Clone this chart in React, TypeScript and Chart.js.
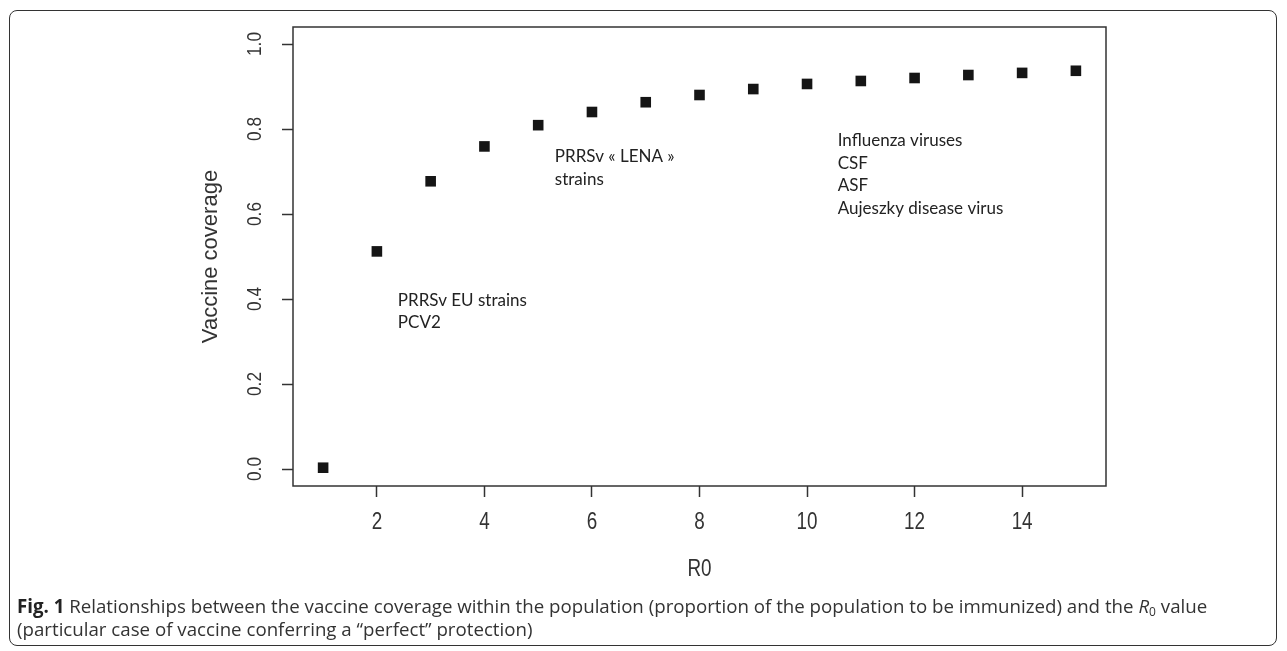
import React, { useEffect, useRef } from "react";
import { Chart, registerables } from "chart.js";

Chart.register(...registerables);

// ---- data ----
const r0Values = [1, 2, 3, 4, 5, 6, 7, 8, 9, 10, 11, 12, 13, 14, 15];
const coverage = [0.003, 0.512, 0.677, 0.759, 0.809, 0.84, 0.863, 0.88, 0.894, 0.906, 0.913, 0.92, 0.927, 0.932, 0.937];
const xTickValues = [2, 4, 6, 8, 10, 12, 14];
const xTickLabels = ["2", "4", "6", "8", "10", "12", "14"];
const yTickValues = [0, 0.2, 0.4, 0.6, 0.8, 1.0];
const yTickLabels = ["0.0", "0.2", "0.4", "0.6", "0.8", "1.0"];
const annotationLines = [
  ["PRRSv EU strains", "PCV2"],
  ["PRRSv « LENA »", "strains"],
  ["Influenza viruses", "CSF", "ASF", "Aujeszky disease virus"],
];
const annotationX = [2.39, 5.31, 10.57];
const annotationY = [0.384, 0.722, 0.759];
const xTitle = "R0";
const yTitle = "Vaccine coverage";

const AXIS_FONT = '"Liberation Sans", Arial, sans-serif';
const INK = "#333";
const NARROW = 0.82;

const boxPlugin = {
  id: "rbox",
  afterDraw(chart: any) {
    const { ctx, chartArea: a, scales } = chart;
    ctx.save();
    ctx.strokeStyle = INK;
    ctx.lineWidth = 1.5;
    ctx.strokeRect(a.left, a.top, a.right - a.left, a.bottom - a.top);

    ctx.fillStyle = INK;
    ctx.textAlign = "center";
    ctx.textBaseline = "middle";

    // x tick labels (condensed, R style)
    ctx.font = `23px ${AXIS_FONT}`;
    xTickValues.forEach((v, i) => {
      const px = scales.x.getPixelForValue(v);
      ctx.save();
      ctx.translate(px, a.bottom + 37);
      ctx.scale(NARROW, 1);
      ctx.fillText(xTickLabels[i], 0, 0);
      ctx.restore();
    });
    // x title
    ctx.save();
    ctx.translate((a.left + a.right) / 2, a.bottom + 84);
    ctx.scale(NARROW, 1);
    ctx.fillText(xTitle, 0, 0);
    ctx.restore();

    // rotated y tick labels
    ctx.font = `21px ${AXIS_FONT}`;
    yTickValues.forEach((v, i) => {
      const py = scales.y.getPixelForValue(v);
      ctx.save();
      ctx.translate(a.left - 38, py);
      ctx.rotate(-Math.PI / 2);
      ctx.scale(NARROW, 1);
      ctx.fillText(yTickLabels[i], 0, 0);
      ctx.restore();
    });

    // text annotations
    ctx.font = '17px Lato, "Open Sans", sans-serif';
    ctx.textAlign = "left";
    ctx.textBaseline = "alphabetic";
    ctx.fillStyle = "#222";
    annotationLines.forEach((lines, i) => {
      const px = scales.x.getPixelForValue(annotationX[i]);
      const py = scales.y.getPixelForValue(annotationY[i]);
      lines.forEach((t, j) => ctx.fillText(t, px, py + j * 22.5));
    });
    ctx.restore();
  },
};

export default function App() {
  const canvasRef = useRef<HTMLCanvasElement | null>(null);

  useEffect(() => {
    const canvas = canvasRef.current;
    if (!canvas) return;
    const chart = new Chart(canvas, {
      type: "scatter",
      data: {
        datasets: [
          {
            data: r0Values.map((x, i) => ({ x, y: coverage[i] })),
            pointStyle: "rect",
            pointRadius: 7.5,
            pointHoverRadius: 7.5,
            backgroundColor: "#151515",
            borderColor: "#151515",
            borderWidth: 0,
          },
        ],
      },
      options: {
        responsive: false,
        animation: false,
        events: [],
        layout: { padding: { left: 0, top: 27, right: 181, bottom: 0 } },
        plugins: { legend: { display: false }, tooltip: { enabled: false } },
        scales: {
          x: {
            type: "linear",
            min: 0.44,
            max: 15.56,
            afterBuildTicks: (s: any) => {
              s.ticks = xTickValues.map((v) => ({ value: v }));
            },
            afterFit: (s: any) => {
              s.height = 165;
            },
            grid: {
              display: true,
              drawOnChartArea: false,
              drawTicks: true,
              tickLength: 11,
              tickColor: INK,
              tickWidth: 1.5,
            },
            border: { display: false },
            ticks: { display: false },
            title: { display: false },
          },
          y: {
            type: "linear",
            min: -0.04,
            max: 1.04,
            afterBuildTicks: (s: any) => {
              s.ticks = yTickValues.map((v) => ({ value: v }));
            },
            afterFit: (s: any) => {
              s.width = 293;
            },
            grid: {
              display: true,
              drawOnChartArea: false,
              drawTicks: true,
              tickLength: 11,
              tickColor: INK,
              tickWidth: 1.5,
            },
            border: { display: false },
            ticks: { display: false },
            title: {
              display: true,
              text: yTitle,
              color: INK,
              font: { family: AXIS_FONT, size: 22 },
              padding: { top: 198, bottom: 0 },
            },
          },
        },
      },
      plugins: [boxPlugin],
    });
    return () => chart.destroy();
  }, []);

  return (
    <div style={{ position: "absolute", left: 0, top: 0, width: 1287, height: 651, background: "#fff" }}>
      <div
        style={{
          position: "absolute",
          left: 9,
          top: 10,
          width: 1268,
          height: 636,
          border: "1.5px solid #333",
          borderRadius: 8,
          boxSizing: "border-box",
        }}
      />
      <canvas
        ref={canvasRef}
        width={1287}
        height={651}
        style={{ position: "absolute", left: 0, top: 0, display: "block" }}
      />
      <div
        style={{
          position: "absolute",
          left: 17,
          top: 594,
          fontFamily: '"Open Sans", sans-serif',
          fontSize: 18.7,
          lineHeight: "23px",
          color: "#333",
          whiteSpace: "nowrap",
        }}
      >
        <div>
          <b style={{ color: "#222" }}>Fig. 1</b> Relationships between the vaccine coverage within the population
          (proportion of the population to be immunized) and the <i>R</i>
          <sub style={{ fontSize: 12, verticalAlign: "-3px", lineHeight: 0 }}>0</sub> value
        </div>
        <div>(particular case of vaccine conferring a “perfect” protection)</div>
      </div>
    </div>
  );
}
